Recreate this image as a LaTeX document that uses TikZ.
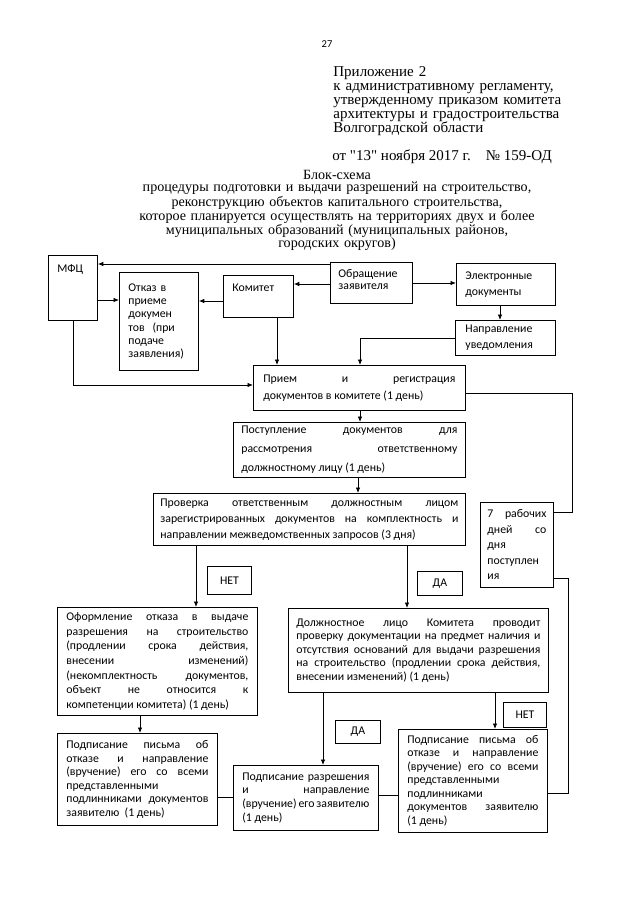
\documentclass[tikz,border=0pt]{standalone}
\usepackage{fontspec}
\setmainfont{Liberation Serif}
\newfontfamily\datafont{Liberation Serif}
\newfontfamily\boxfamily{Carlito}
\usetikzlibrary{arrows.meta}
\newcommand{\blokfont}[1]{\boxfamily\fontsize{11.8}{#1}\selectfont}

\begin{document}
\begin{tikzpicture}[x=1pt,y=-1pt,>={Latex[length=5.5pt,width=4.5pt]},line width=0.8pt]

	\tikzstyle{blok}=[draw,anchor=north west,inner xsep=9pt,inner ysep=1pt,align=justify,font=\blokfont{14}]
	\tikzstyle{otvet}=[draw,anchor=north west,inner sep=0pt,font=\blokfont{14}]
	\tikzstyle{zag}=[inner sep=0pt,font=\fontsize{15}{14.2}\selectfont]

	\useasboundingbox (0,0) rectangle (640,905);

	\node[zag,anchor=base,font=\boxfamily\fontsize{10.5}{12}\selectfont] (nomer) at (327,47) {27};
	\node[zag,anchor=base west,text width=250pt,align=left] (pril) at (333,76)
		{Приложение 2\\к административному регламенту,\\утвержденному приказом комитета\\архитектуры и градостроительства\\Волгоградской области};
	\node[zag,anchor=base west,font=\datafont\fontsize{15}{14.2}\selectfont] (data) at (332,160) {от "13" ноября 2017 г.\quad № 159-ОД};
	\node[zag,anchor=base,text width=430pt,align=center,font=\fontsize{14.1}{12.9}\selectfont] (titul) at (337,179)
		{Блок-схема\\процедуры подготовки и выдачи разрешений на строительство,\\реконструкцию объектов капитального строительства,\\которое планируется осуществлять на территориях двух и более\\муниципальных образований (муниципальных районов,\\городских округов)};

	\node[blok,text width=31pt,text height=16pt,text depth=47pt,align=left] (mfc) at (48,255) {МФЦ};
	\node[blok,text width=61pt,minimum height=98pt,align=left,font=\blokfont{13.2}] (otkaz) at (119,272)
		{Отказ в\\приеме\\докумен\\тов\ \ (при\\подаче\\заявления)};
	\node[blok,text width=52pt,text height=15pt,text depth=25pt,align=left] (komitet) at (223,275) {Комитет};
	\node[blok,inner xsep=8pt,text width=66pt,text height=14pt,text depth=25pt,align=left,font=\blokfont{12.5}] (obr) at (330,262)
		{Обращение\\заявителя};
	\node[blok,text width=81pt,minimum height=42pt,align=left,font=\blokfont{16.5}] (elec) at (456,263)
		{Электронные\\документы};
	\node[blok,inner xsep=10pt,text width=80pt,minimum height=35pt,align=left,font=\blokfont{16}] (napr) at (455,320)
		{Направление\\уведомления};
	\node[blok,inner xsep=10pt,text width=192pt,minimum height=45pt,font=\blokfont{17}] (priem) at (253,365)
		{Прием и регистрация\linebreak документов в комитете (1 день)};
	\node[blok,inner xsep=8pt,text width=216pt,minimum height=55pt,font=\blokfont{19}] (post) at (233,422)
		{Поступление документов для\linebreak рассмотрения ответственному\linebreak должностному лицу (1 день)};
	\node[blok,inner xsep=7pt,text width=298pt,minimum height=52pt,font=\blokfont{16}] (prov) at (153,493)
		{Проверка ответственным должностным лицом\linebreak зарегистрированных документов на комплектность и\linebreak направлении межведомственных запросов (3 дня)};
	\node[blok,inner xsep=7pt,text width=59pt,minimum height=85pt,font=\blokfont{15.5}] (sem) at (480,502)
		{7 рабочих\linebreak дней со\linebreak дня\linebreak поступлен\linebreak ия};
	\node[blok,text width=182pt,minimum height=108pt,font=\blokfont{14.7}] (oform) at (57,607)
		{Оформление отказа в выдаче\linebreak разрешения на строительство\linebreak (продлении срока действия,\linebreak внесении изменений)\linebreak (некомплектность документов,\linebreak объект не относится к\linebreak компетенции комитета) (1 день)};
	\node[blok,inner xsep=8pt,text width=244pt,minimum height=84pt,font=\blokfont{13.5}] (dolzh) at (288,608)
		{Должностное лицо Комитета проводит\linebreak проверку документации на предмет наличия и\linebreak отсутствия оснований для выдачи разрешения\linebreak на строительство (продлении срока действия,\linebreak внесении изменений) (1 день)};
	\node[blok,text width=142pt,minimum height=92pt,font=\blokfont{13.6}] (podp1) at (57,733)
		{Подписание письма об\linebreak отказе и направление\linebreak (вручение) его со всеми\linebreak представленными\linebreak подлинниками документов\linebreak заявителю\ \ (1 день)};
	\node[blok,text width=127pt,minimum height=65pt,font=\blokfont{13.7}] (podp2) at (233,765)
		{Подписание разрешения\linebreak и направление\linebreak (вручение) его заявителю\linebreak (1 день)};
	\node[blok,text width=131pt,minimum height=103pt,font=\blokfont{13.5}] (podp3) at (398,729)
		{Подписание письма об\linebreak отказе и направление\linebreak (вручение) его со всеми\linebreak представленными\linebreak подлинниками\linebreak документов заявителю\linebreak (1 день)};

	\node[otvet,minimum width=44pt,minimum height=28pt] (net1) at (207,566) {НЕТ};
	\node[otvet,minimum width=45pt,minimum height=24pt] (da1) at (417,571) {ДА};
	\node[otvet,minimum width=43pt,minimum height=25pt] (net2) at (503,702) {НЕТ};
	\node[otvet,minimum width=45pt,minimum height=23pt] (da2) at (335,720) {ДА};

	\draw[->] (obr.west |- 0,264) -- (mfc.east |- 0,264);
	\draw[->] (obr.west |- 0,284) -- (komitet.east |- 0,284);
	\draw[->] (obr.east |- 0,283) -- (elec.west |- 0,283);
	\draw[->] (mfc.east |- 0,300) -- (otkaz.west |- 0,300);
	\draw[->] (komitet.west |- 0,301) -- (otkaz.east |- 0,301);
	\draw[->] (komitet.south -| 277,0) -- (priem.north -| 277,0);
	\draw[->] (mfc.south) |- (priem.west |- 0,385);
	\draw[->] (elec.south -| 500,0) -- (napr.north -| 500,0);
	\draw[->] (napr.west) -| (priem.north -| 360,0);
	\draw[->] (priem.south -| 360,0) -- (post.north -| 360,0);
	\draw[->] (post.south -| 358,0) -- (prov.north -| 358,0);
	\draw (priem.east |- 0,393) -| (572,512) -- (sem.east |- 0,512);
	\draw[->] (prov.south -| 196,0) -- (oform.north -| 196,0);
	\draw[->] (prov.south -| 407,0) -- (dolzh.north -| 407,0);
	\draw[->] (oform.south -| 140,0) -- (podp1.north -| 140,0);
	\draw[->] (dolzh.south -| 323,0) -- (podp2.north -| 323,0);
	\draw[->] (dolzh.south -| 495,0) -- (podp3.north -| 495,0);
	\draw (podp1.east |- 0,797) -- (podp2.west |- 0,797);
	\draw (podp2.east |- 0,795) -- (podp3.west |- 0,795);
	\draw (sem.east |- 0,578) -| (568,793) -- (podp3.east |- 0,793);
\end{tikzpicture}
\end{document}
